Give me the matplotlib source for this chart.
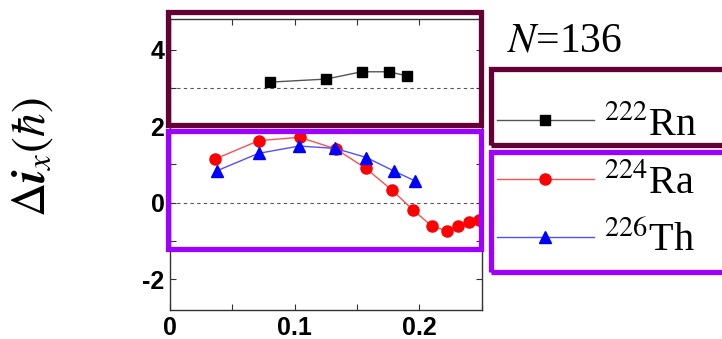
import matplotlib
matplotlib.use("Agg")
import matplotlib.pyplot as plt
from matplotlib.patches import Rectangle

# data
rn_x = [0.0805, 0.1254, 0.1536, 0.1755, 0.1904]
rn_y = [3.15, 3.23, 3.42, 3.42, 3.31]

ra_x = [0.036, 0.071, 0.104, 0.1333, 0.157, 0.178, 0.195, 0.210, 0.222, 0.231, 0.240, 0.248]
ra_y = [1.14, 1.62, 1.71, 1.40, 0.90, 0.33, -0.19, -0.61, -0.73, -0.60, -0.51, -0.45]

th_x = [0.038, 0.071, 0.1035, 0.1325, 0.1576, 0.1795, 0.1965]
th_y = [0.84, 1.29, 1.48, 1.42, 1.18, 0.83, 0.57]

labels = [r'$^{222}$Rn', r'$^{224}$Ra', r'$^{226}$Th']
xticks = [0, 0.05, 0.1, 0.15, 0.2, 0.25]
xticklabels = ['0', '', '0.1', '', '0.2', '']
yticks = [-2, -1, 0, 1, 2, 3, 4]
yticklabels = ['-2', '', '0', '', '2', '', '4']

plt.rcParams['mathtext.fontset'] = 'stix'
plt.rcParams['font.family'] = 'Liberation Serif'

W, H = 722, 339
fig = plt.figure(figsize=(W / 100, H / 100), dpi=100)
ax = fig.add_axes([170 / W, 1 - 310 / H, (481.7 - 170) / W, (310 - 19.3) / H])

ax.axhline(0, color='#555555', lw=0.8, ls=(0, (3, 3)), zorder=1)
ax.axhline(3, color='#555555', lw=0.8, ls=(0, (3, 3)), zorder=1)

l1, = ax.plot(rn_x, rn_y, color='#555555', lw=1, marker='s', ms=7.5,
              mfc='black', mec='black', zorder=3)
l2, = ax.plot(ra_x, ra_y, color='#ff5050', lw=1, marker='o', ms=8,
              mfc='red', mec='red', zorder=3)
l3, = ax.plot(th_x, th_y, color='#5050ff', lw=1, marker='^', ms=9,
              mfc='blue', mec='blue', zorder=4)

ax.set_xlim(0, 0.2494)
ax.set_ylim(-2.8, 4.79)
ax.set_xticks(xticks)
ax.set_xticklabels(xticklabels)
ax.set_yticks(yticks)
ax.set_yticklabels(yticklabels)
ax.tick_params(direction='in', top=True, right=True, length=4, width=0.8,
               color='#333333', pad=4)
for lab in ax.get_xticklabels() + ax.get_yticklabels():
    lab.set_family('Liberation Sans')
    lab.set_fontweight('bold')
    lab.set_fontsize(18)
for s in ax.spines.values():
    s.set_color('#333333')
    s.set_linewidth(1)

ax.set_ylabel(r'$\mathrm{\Delta}\mathbfit{i}_{x}(\hbar)$', fontsize=34)
ax.yaxis.set_label_coords(-0.37, 0.525)

fig.text(565 / W, 1 - 52 / H, r'$\mathit{N}$=136', fontsize=30, ha='center',
         va='baseline')

fig.legend([l1, l2, l3], labels, loc='center left',
           bbox_to_anchor=(497 / W, 1 - 183 / H), frameon=False,
           fontsize=29, handlelength=2.4, handletextpad=0.25,
           labelspacing=0.5, borderpad=0, borderaxespad=0, markerscale=1.0)

maroon = '#650035'
purple = '#9d00ff'


def box(x0, y0, x1, y1, color):
    # pixel coords (top-left origin) -> figure fraction
    fig.add_artist(Rectangle((x0 / W, 1 - y1 / H), (x1 - x0) / W, (y1 - y0) / H,
                             transform=fig.transFigure, fill=False,
                             edgecolor=color, lw=3.8, zorder=10, clip_on=False))


box(167.5, 12, 480.5, 125, maroon)
box(168, 130.5, 480.5, 249, purple)
box(491, 69, 740, 145, maroon)
box(491, 152, 740, 271.5, purple)

fig.savefig('out.png', dpi=100)
